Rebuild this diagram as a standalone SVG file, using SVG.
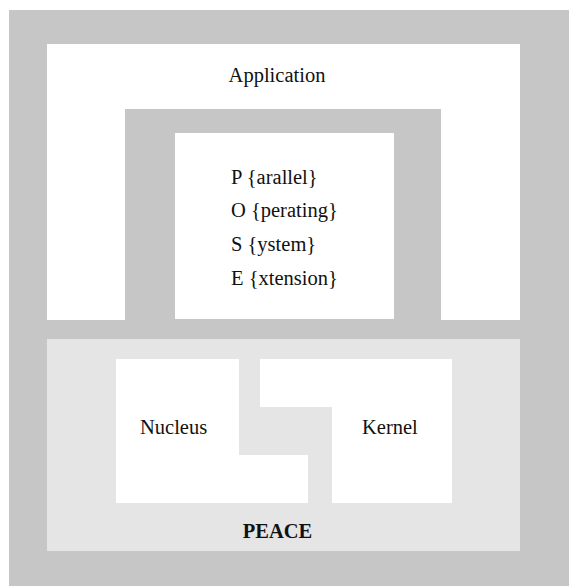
<svg xmlns="http://www.w3.org/2000/svg" width="569" height="586" viewBox="0 0 569 586">
<style>
text{font-family:'Liberation Serif','Times New Roman',Times,serif;font-size:20.5px;fill:#111}
.b{font-weight:bold}
.w{fill:#ffffff}
</style>
<rect x="0" y="0" width="569" height="586" fill="#ffffff"/>
<rect x="9" y="10" width="560" height="576" fill="#c6c6c6"/>
<g id="application">
<path class="w" d="M47,44 H520 V320 H441 V109 H125 V320 H47 Z"/>
<text x="277" y="82" text-anchor="middle" font-family="Liberation Serif, serif">Application</text>
</g>
<g id="pose" font-family="Liberation Serif, serif">
<rect class="w" x="175" y="133" width="219" height="186"/>
<text x="231" y="184">P {arallel}</text>
<text x="231" y="217">O {perating}</text>
<text x="231" y="251">S {ystem}</text>
<text x="231" y="285">E {xtension}</text>
</g>
<g id="peace">
<rect x="47" y="339" width="473" height="212" fill="#e5e5e5"/>
<text class="b" x="277.5" y="538" text-anchor="middle">PEACE</text>
</g>
<g id="nucleus">
<path class="w" d="M116,359 H239 V455 H308 V503 H116 Z"/>
<text x="140" y="434">Nucleus</text>
</g>
<g id="kernel">
<path class="w" d="M260,359 H452 V503 H332 V407 H260 Z"/>
<text x="362" y="434">Kernel</text>
</g>
<g id="connectors"/>
</svg>
